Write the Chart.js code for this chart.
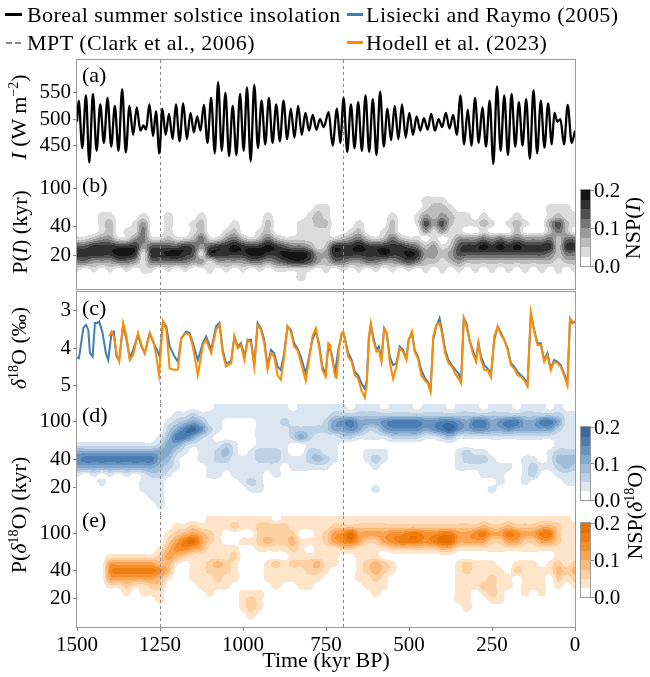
<!DOCTYPE html>
<html><head><meta charset="utf-8">
<script src="https://cdn.jsdelivr.net/npm/chart.js@4/dist/chart.umd.min.js"></script>
<style>
body{margin:0;background:#fff;}
#fig{position:relative;width:650px;height:677px;font-family:"Liberation Serif","Times New Roman",serif;color:#000;overflow:hidden;background:#fff}
.frame{position:absolute;border:1px solid #9a9a9a;box-sizing:border-box;pointer-events:none}
.t{position:absolute;white-space:nowrap;font-size:22px;line-height:22px}
.rot{position:absolute;white-space:nowrap;font-size:22px;line-height:22px;transform:translate(-50%,-50%) rotate(-90deg)}
.sup{font-size:14px;position:relative;top:-8px}
.leg{position:absolute;white-space:nowrap;font-size:22px;line-height:22px;letter-spacing:0.45px}
</style></head>
<body><div id="fig"></div>
<script>
// ---------------- data ----------------
const timeTicks = [1500,1250,1000,750,500,250,0];
const mptTimes = [1250, 700];
const insTicks = [450,500,550];
const d18Ticks = [3,4,5];
const periodTicks = [20,40,100];
const nspTicks = ['0.0','0.1','0.2'];

// Boreal summer solstice insolation (W m-2), turning points
const insTime = [1500,1495,1484,1473,1463,1452,1441,1430,1419,1408,1397,1386,1375,1364,1353,1342,1331,1320,1309,1300,1292,1282,1271,1262,1252,1243,1233,1223,1212,1202,1191,1180,1169,1158,1148,1138,1128,1118,1107,1096,1085,1075,1064,1053,1042,1031,1020,1009,998,988,977,966,955,944,933,922,911,900,889,878,867,856,845,834,823,812,801,790,779,768,757,742,730,717,707,697,686,675,664,653,642,631,620,609,598,587,576,565,554,543,532,521,510,499,488,477,466,455,444,433,422,411,400,389,378,367,356,345,334,323,312,301,290,279,268,257,246,235,224,213,202,191,180,169,158,147,136,125,114,103,92,81,70,62,53,44,33,22,10,0];
const insValue = [495,535,445,545,418,548,440,528,455,540,448,525,440,557,437,525,470,522,478,488,480,528,468,515,435,520,470,510,462,528,458,530,462,512,475,505,478,527,455,540,435,570,440,550,430,525,432,548,440,560,420,565,445,535,452,540,455,528,458,535,462,520,465,525,470,512,478,508,480,500,485,513,450,520,455,540,438,528,445,532,440,545,438,538,432,552,448,520,460,525,462,528,465,512,470,505,478,502,480,510,478,500,485,512,482,508,470,545,452,518,450,540,455,522,448,535,415,562,440,545,432,548,448,532,450,538,425,555,435,535,446,530,452,512,495,500,452,527,455,478];

// Lisiecki and Raymo (2005) d18O (permil)
const lrTime = [1500,1494,1481,1473,1466,1461,1453,1446,1439,1433,1423,1413,1406,1396,1389,1381,1373,1361,1351,1341,1331,1316,1306,1296,1281,1271,1261,1251,1241,1231,1221,1206,1196,1186,1171,1161,1151,1136,1121,1111,1096,1081,1071,1061,1051,1036,1026,1016,1006,996,986,976,966,956,946,936,926,916,906,896,886,876,866,856,846,836,826,811,801,791,781,771,761,751,743,733,723,713,703,698,693,683,673,663,653,643,633,627,621,615,608,598,591,583,575,567,558,548,538,528,518,508,501,491,483,473,463,453,443,435,427,418,408,401,391,381,371,361,351,343,335,327,318,308,298,291,283,273,263,253,243,233,223,213,203,193,183,173,163,153,143,133,123,113,103,93,83,73,63,53,43,33,23,15,8,0];
const lrValue = [4.25,4.27,3.47,3.38,3.51,4.14,4.23,3.33,3.33,3.29,3.60,4.14,4.32,3.60,3.56,4.23,4.32,3.38,3.78,4.28,4.05,3.65,3.96,4.14,3.60,3.83,4.01,4.23,3.29,3.42,3.96,4.23,4.37,3.74,3.56,3.60,3.87,4.32,3.87,3.69,4.05,3.42,3.33,4.05,4.41,4.37,3.69,3.96,3.87,4.23,3.78,3.78,4.46,3.33,3.47,3.78,4.50,4.05,4.14,4.50,4.59,4.14,3.42,3.51,3.87,4.01,4.23,4.68,4.23,3.78,3.56,3.87,4.50,4.68,3.96,4.14,4.68,4.05,3.65,3.60,3.74,4.14,4.32,4.64,4.73,4.95,5.09,4.86,3.78,3.38,3.69,4.05,3.96,4.32,3.47,3.60,4.23,4.46,4.41,3.96,4.05,4.28,3.78,3.59,4.05,4.23,4.59,4.79,4.91,5.09,3.78,3.42,3.20,3.51,4.05,4.32,4.46,4.58,4.68,4.86,3.20,3.33,3.78,4.05,4.32,3.87,4.23,4.46,4.55,4.68,3.78,3.42,3.60,3.78,4.01,4.41,4.50,4.64,4.73,4.82,4.95,3.08,3.51,3.87,3.87,4.32,4.14,4.55,4.32,4.37,4.46,4.68,4.94,3.24,3.33,3.30];

// Hodell et al. (2023) d18O (permil)
const hoTime = [1403,1396,1389,1379,1373,1361,1351,1341,1331,1316,1306,1296,1281,1271,1261,1253,1241,1231,1221,1206,1196,1186,1171,1161,1151,1136,1121,1111,1096,1081,1071,1061,1051,1036,1026,1016,1006,996,986,976,966,956,946,936,926,916,906,896,886,876,866,856,846,836,826,811,801,791,781,771,761,751,743,738,733,723,718,711,703,698,693,683,673,663,653,643,633,627,621,615,608,598,591,583,575,567,558,548,538,528,518,508,501,491,483,473,463,453,443,435,427,418,408,401,391,381,371,361,351,343,335,327,318,308,298,291,283,273,263,253,243,233,223,213,203,193,183,173,163,153,143,133,123,113,103,93,83,73,63,53,43,33,23,15,8,2];
const hoValue = [3.69,3.56,3.69,4.23,4.37,3.33,3.69,4.32,4.19,3.60,3.92,4.14,3.60,3.78,4.23,4.73,3.29,3.51,4.55,4.59,4.58,3.74,3.60,3.65,3.96,4.73,3.92,3.78,4.14,3.51,3.38,4.14,4.50,4.41,3.69,4.01,3.92,4.32,3.78,3.87,4.50,3.38,3.51,3.87,4.58,4.14,4.23,4.73,4.85,4.23,3.41,3.56,3.96,4.05,4.37,4.88,4.32,3.69,3.47,3.96,4.59,4.77,3.87,3.92,4.23,4.73,4.79,4.01,3.60,3.56,3.78,4.23,4.37,4.73,4.82,5.14,5.33,4.95,3.69,3.33,3.78,4.10,4.05,4.37,3.47,3.60,4.37,4.82,4.50,4.01,4.10,4.32,3.78,3.56,4.10,4.28,4.73,4.86,4.95,5.18,3.69,3.38,3.33,3.60,4.14,4.41,4.50,4.68,4.82,4.95,3.20,3.42,3.78,4.14,4.37,3.87,4.32,4.59,4.59,4.79,3.69,3.42,3.65,3.78,4.05,4.46,4.55,4.73,4.77,4.86,5.03,3.06,3.56,3.92,3.92,4.37,4.19,4.59,4.37,4.41,4.50,4.73,5.00,3.20,3.29,3.33];

// Wavelet spectra: columns = time 1500..0 kyr every 25 kyr; rows = period nodes (kyr);
// digits = NSP band (0 = <0.025 ... 7 = 0.175-0.2)
const gridTimeStart = 1500, gridTimeStep = 25;
const periodNodesI = [131,109,90,75,63,51,43,35.5,30.3,24.6,20.9,17.2,14.4,11.7,9.9,8.4];
const nspInsolation = [
"0000000000 0000000000 0000000000 0000000000 0000000000 0000000000 0",
"0000000000 0000000000 0000000000 0000000000 0000000000 0000000000 0",
"0000000000 0000000000 0000000000 0000000000 0000000000 0000000000 0",
"0000000000 0000000000 0000000000 0000000000 0011100000 0000000000 0",
"0000000000 0000000000 0000000001 1000000000 0012210000 0000000111 0",
"0001100010 0100010000 0001000012 1000000010 0132321101 0001000121 1",
"0001200130 0100120001 0002000112 2000100020 0153521112 1012100352 1",
"0001201140 0100120012 0012000111 1001200120 0031311001 0002000242 0",
"1123311341 1211241134 2124211111 1123421242 1101013334 3434333424 4",
"5566666635 5556535667 6667654431 2666766666 5423125667 6767666626 6",
"6666677616 6776516666 6776677763 3666666766 7633235555 5555555424 4",
"4433344314 4444331333 3443456653 2443344334 5422123222 2222222212 2",
"1010101011 0101001010 1010111110 1010101010 1010101010 1010101010 1",
"0000000000 0000000000 0000000100 0000000000 0000000000 0000000000 0",
"0000000000 0000000000 0000000000 0000000000 0000000000 0000000000 0",
"0000000000 0000000000 0000000000 0000000000 0000000000 0000000000 0"];
const periodNodesO = [145,120,100,83,69,57,48,40,33.5,27.2,23.2,19.2,16.2,13,10.8,9];
const nspLR04 = [
"0000000000 0000000111 1111110111 1110111011 1011101110 1110111010 0",
"0000000000 0011211111 1111111111 1222222222 2222222222 2222222221 1",
"0000000000 0123431100 0011121111 2456444566 6655665466 4566446641 1",
"0000000000 0246752100 0011112222 2445422455 5545675455 4454444421 1",
"0000000000 1366421000 0011112421 1122111122 2211231111 1111111111 1",
"1111111111 2442111121 0011110011 1100000000 0000000000 0000000011 1",
"4444444444 4421011231 0122210022 1100011100 0000001211 0000000122 2",
"5666666666 4310011221 1122211123 2100012100 0000001222 1000110133 3",
"4444444444 3210001111 1111101111 1000001000 0000001111 1110121123 2",
"1010101012 2100001101 1110100000 0000000000 0000000001 1100120011 1",
"0001000011 1000000000 1210000000 0000000000 0000000000 0100100001 1",
"0000000011 1000000000 0110000000 0000001000 0000000000 1000000000 0",
"0000000001 1000000000 0000000000 0000000000 0000000000 0000000000 0",
"0000000000 1000000000 0000000000 0000000000 0000000000 0000000000 0",
"0000000000 0000000000 0000000000 0000000000 0000000000 0000000000 0",
"0000000000 0000000000 0000000000 0000000000 0000000000 0000000000 0"];
const nspHodell = [
"0000000000 0000001111 1111011111 1111111111 1111111111 1111111111 0",
"0000000000 0011211112 1122221111 1222222222 2222222223 2232223321 1",
"0000000000 0123432100 0022222001 2457444455 6655664456 4465446621 1",
"0000000000 0246742100 1123223111 2456422456 6656774444 2244224421 1",
"0000000000 1355431111 0011112101 1122111122 2222331111 1111111111 1",
"0000111111 2432111112 0000001111 1100111000 0000000000 0000000011 1",
"0000444444 3310112321 0001212223 1100123210 0000001211 1001110121 2",
"0000566666 5300112221 0001111122 1000123210 0000001211 1102111132 3",
"0000444444 3100111211 0001111111 0000112100 0000001111 2110111021 2",
"0000112112 2000011110 0000100110 0000011100 0000001112 2110111010 1",
"0000001011 1000001000 1110000000 0000001000 0000001101 2100101000 0",
"0000000000 1000000000 1210000000 0000000000 0000001100 1100000000 0",
"0000000000 0000000000 1210000000 0000000000 0000000100 0000000000 0",
"0000000000 0000000000 0100000000 0000000000 0000000000 0000000000 0",
"0000000000 0000000000 0000000000 0000000000 0000000000 0000000000 0",
"0000000000 0000000000 0000000000 0000000000 0000000000 0000000000 0"];

// ---------------- styles ----------------
const grayPal = ['#ffffff','#dcdcdc','#bdbdbd','#9a9a9a','#767676','#4f4f4f','#303030','#141414'];
const bluePal = ['#ffffff','#dbe6f1','#bed2e6','#a0bdda','#82a8cd','#6692c0','#4b7db2','#3a699c'];
const orangePal = ['#ffffff','#fee4c9','#fdd0a2','#fbba79','#f9a450','#f68f2a','#f07d0f','#e47000'];
const colLR = '#3f7db5', colHo = '#ff8c00';

Chart.defaults.font.family = '"Liberation Serif","Times New Roman",serif';
Chart.defaults.font.size = 21;
Chart.defaults.color = '#000';

const fig = document.getElementById('fig');
const PL = 77, PR = 575;

function crWeights(t) {
  const t2 = t * t, t3 = t2 * t;
  return [(-t3 + 2 * t2 - t) / 2, (3 * t3 - 5 * t2 + 2) / 2, (-3 * t3 + 4 * t2 + t) / 2, (t3 - t2) / 2];
}
function heatPlugin(rowsTxt, periods, palette) {
  const rows = rowsTxt.map(r => r.replace(/ /g, '').split('').map(Number));
  const rgb = palette.map(h => [parseInt(h.slice(1,3),16), parseInt(h.slice(3,5),16), parseInt(h.slice(5,7),16)]);
  const lp = periods.map(p => Math.log10(p));
  const nr = rows.length, nc = rows[0].length;
  const cl = (v, n) => Math.max(0, Math.min(n - 1, v));
  return {
    id: 'heat',
    beforeDatasetsDraw(chart) {
      const ca = chart.chartArea, xs = chart.scales.x, ys = chart.scales.y;
      const L = Math.round(ca.left), T = Math.round(ca.top);
      const W = Math.round(ca.right) - L, H = Math.round(ca.bottom) - T;
      const off = document.createElement('canvas'); off.width = W; off.height = H;
      const octx = off.getContext('2d'); const img = octx.createImageData(W, H);
      const cIdx = [], cW = [], rIdx = [], rW = [];
      for (let i = 0; i < W; i++) {
        const t = xs.getValueForPixel(L + i + 0.5);
        const f = Math.min(nc - 1, Math.max(0, (gridTimeStart - t) / gridTimeStep));
        const c0 = Math.min(nc - 2, Math.floor(f));
        cIdx.push([cl(c0 - 1, nc), c0, cl(c0 + 1, nc), cl(c0 + 2, nc)]); cW.push(crWeights(f - c0));
      }
      for (let j = 0; j < H; j++) {
        const v = Math.log10(ys.getValueForPixel(T + j + 0.5));
        let k = 0; while (k < nr - 2 && v < lp[k + 1]) k++;
        let f = (lp[k] - v) / (lp[k] - lp[k + 1]); f = Math.max(0, Math.min(1, f));
        rIdx.push([cl(k - 1, nr), k, cl(k + 1, nr), cl(k + 2, nr)]); rW.push(crWeights(f));
      }
      for (let j = 0; j < H; j++) {
        const ri = rIdx[j], rw = rW[j];
        for (let i = 0; i < W; i++) {
          const ci = cIdx[i], cw = cW[i];
          let v = 0;
          for (let a = 0; a < 4; a++) {
            const row = rows[ri[a]];
            v += rw[a] * (cw[0] * row[ci[0]] + cw[1] * row[ci[1]] + cw[2] * row[ci[2]] + cw[3] * row[ci[3]]);
          }
          const lev = Math.min(rgb.length - 1, Math.round(v));
          if (lev <= 0) continue;
          const o = (j * W + i) * 4, c = rgb[lev];
          img.data[o] = c[0]; img.data[o + 1] = c[1]; img.data[o + 2] = c[2]; img.data[o + 3] = 255;
        }
      }
      octx.putImageData(img, 0, 0);
      chart.ctx.drawImage(off, L, T);
    }
  };
}
const mptPlugin = {
  id: 'mpt',
  beforeDatasetsDraw(chart) {
    const {ctx, chartArea: ca} = chart, xs = chart.scales.x;
    ctx.save(); ctx.strokeStyle = '#8a8a8a'; ctx.lineWidth = 1; ctx.setLineDash([3, 3]);
    mptTimes.forEach(t => {
      const x = Math.round(xs.getPixelForValue(t)) + 0.5;
      ctx.beginPath(); ctx.moveTo(x, ca.top); ctx.lineTo(x, ca.bottom); ctx.stroke();
    });
    ctx.restore();
  }
};

function yAxis(extra) {
  return Object.assign({
    position: 'left',
    afterFit(s) { s.width = PL; s.paddingTop = 0; s.paddingBottom = 0; },
    grid: {drawOnChartArea: false, drawTicks: true, tickLength: 4, color: '#8a8a8a'},
    border: {display: false},
    ticks: {padding: 2, color: '#000', font: {size: 21}, autoSkip: false, maxRotation: 0, callback: v => String(v)}
  }, extra);
}
function logY(min, max) {
  return yAxis({type: 'logarithmic', min, max,
    afterBuildTicks(s) { s.ticks = periodTicks.map(v => ({value: v})); }});
}
function xAxis(show) {
  const ax = {type: 'linear', min: 0, max: 1500, reverse: true, display: show, position: 'bottom',
    afterBuildTicks(s) { s.ticks = timeTicks.map(v => ({value: v})); }};
  if (show) Object.assign(ax, {
    afterFit(s) { s.height = 50; s.paddingLeft = 0; s.paddingRight = 0; },
    grid: {drawOnChartArea: false, drawTicks: true, tickLength: 4, color: '#8a8a8a'},
    border: {display: false},
    ticks: {padding: 2, color: '#000', font: {size: 21}, autoSkip: false, maxRotation: 0, callback: v => String(v)},
    title: {display: true, text: 'Time (kyr BP)', color: '#000', font: {size: 22}, padding: {top: 0, bottom: 3}}
  });
  return ax;
}
function makeChart(top, height, config) {
  const c = document.createElement('canvas');
  c.width = 650; c.height = height;
  c.style.cssText = 'position:absolute;left:0;top:' + top + 'px';
  fig.appendChild(c);
  config.options = Object.assign({
    responsive: false, animation: false, devicePixelRatio: 1, events: [],
    layout: {padding: {left: 0, right: 650 - PR, top: 0, bottom: 0}},
  }, config.options);
  config.options.plugins = {legend: {display: false}, tooltip: {enabled: false}};
  return new Chart(c, config);
}
const pts = (ts, vs) => ts.map((t, i) => ({x: t, y: vs[i]}));

// (a) insolation
makeChart(60, 114, {
  type: 'line',
  data: {datasets: [{data: pts(insTime, insValue), borderColor: '#000', borderWidth: 2.3, pointRadius: 0, cubicInterpolationMode: 'monotone'}]},
  options: {scales: {x: xAxis(false), y: yAxis({type: 'linear', min: 396, max: 612,
    afterBuildTicks(s) { s.ticks = insTicks.map(v => ({value: v})); }})}},
  plugins: [mptPlugin]
});
// (b) NSP insolation
makeChart(174, 115, {
  type: 'scatter', data: {datasets: []},
  options: {scales: {x: xAxis(false), y: logY(9, 140)}},
  plugins: [heatPlugin(nspInsolation, periodNodesI, grayPal), mptPlugin]
});
// (c) d18O
makeChart(292, 112, {
  type: 'line',
  data: {datasets: [
    {data: pts(hoTime, hoValue), borderColor: colHo, borderWidth: 2, pointRadius: 0, tension: 0, order: 1},
    {data: pts(lrTime, lrValue), borderColor: colLR, borderWidth: 2, pointRadius: 0, tension: 0, order: 2}]},
  options: {scales: {x: xAxis(false), y: yAxis({type: 'linear', min: 2.5, max: 5.5, reverse: true,
    afterBuildTicks(s) { s.ticks = d18Ticks.map(v => ({value: v})); }})}},
  plugins: [mptPlugin]
});
// (d) NSP LR04
makeChart(404, 112, {
  type: 'scatter', data: {datasets: []},
  options: {scales: {x: xAxis(false), y: logY(10, 155)}},
  plugins: [heatPlugin(nspLR04, periodNodesO, bluePal), mptPlugin]
});
// (e) NSP Hodell
makeChart(516, 161, {
  type: 'scatter', data: {datasets: []},
  options: {scales: {x: xAxis(true), y: logY(10, 155)}},
  plugins: [heatPlugin(nspHodell, periodNodesO, orangePal), mptPlugin]
});

// ---------------- frames, labels, legend, colorbars ----------------
function el(cls, html, css) { const d = document.createElement('div'); d.className = cls; d.innerHTML = html; d.style.cssText += css; fig.appendChild(d); return d; }
el('frame', '', `left:${PL-1}px;top:59px;width:${PR-PL+2}px;height:231px;`);
el('frame', '', `left:${PL-1}px;top:291px;width:${PR-PL+2}px;height:337px;`);

[['(a)', 64], ['(b)', 174], ['(c)', 297], ['(d)', 404], ['(e)', 509]].forEach(([s, y]) => el('t', s, `left:82px;top:${y}px;`));

el('rot', '<i>I</i> (W m<span class="sup">−2</span>)', 'left:20px;top:117px;');
el('rot', 'P(<i>I</i>) (kyr)', 'left:20px;top:232px;');
el('rot', '<i>δ</i><span class="sup">18</span>O (‰)', 'left:20px;top:348px;');
el('rot', 'P(<i>δ</i><span class="sup">18</span>O) (kyr)', 'left:20px;top:515px;');
el('rot', 'NSP(<i>I</i>)', 'left:633px;top:228px;');
el('rot', 'NSP(<i>δ</i><span class="sup">18</span>O)', 'left:636px;top:512px;');

// legend
el('leg', '', 'left:5px;top:13px;width:17px;height:3px;background:#000;');
el('leg', 'Boreal summer solstice insolation', 'left:27px;top:4px;');
el('leg', '', `left:347px;top:13px;width:16px;height:3px;background:${colLR};`);
el('leg', 'Lisiecki and Raymo (2005)', 'left:366px;top:4px;');
el('leg', '', 'left:6px;top:42px;width:6px;height:1.5px;background:#8a8a8a;');
el('leg', '', 'left:15px;top:42px;width:6px;height:1.5px;background:#8a8a8a;');
el('leg', 'MPT (Clark et al., 2006)', 'left:27px;top:32px;');
el('leg', '', `left:347px;top:41px;width:16px;height:3px;background:${colHo};`);
el('leg', 'Hodell et al. (2023)', 'left:366px;top:32px;');

function colorbar(pal, x, top, bottom) {
  const h = (bottom - top) / pal.length;
  pal.forEach((c, k) => el('leg', '', `left:${x}px;top:${bottom - (k + 1) * h}px;width:9px;height:${h + 0.4}px;background:${c};`));
  el('frame', '', `left:${x - 1}px;top:${top - 1}px;width:11px;height:${bottom - top + 2}px;`);
  nspTicks.forEach((lab, k) => {
    const y = bottom - k * (bottom - top) / (nspTicks.length - 1);
    el('leg', '', `left:${x + 10}px;top:${y - 0.5}px;width:3px;height:1px;background:#8a8a8a;`);
    el('t', lab, `left:${x + 13}px;top:${y - 11}px;font-size:21px;`);
  });
}
colorbar(grayPal, 581, 190, 266);
colorbar(bluePal, 581, 427, 500);
colorbar(orangePal, 581, 523, 597);
</script>
</body></html>
